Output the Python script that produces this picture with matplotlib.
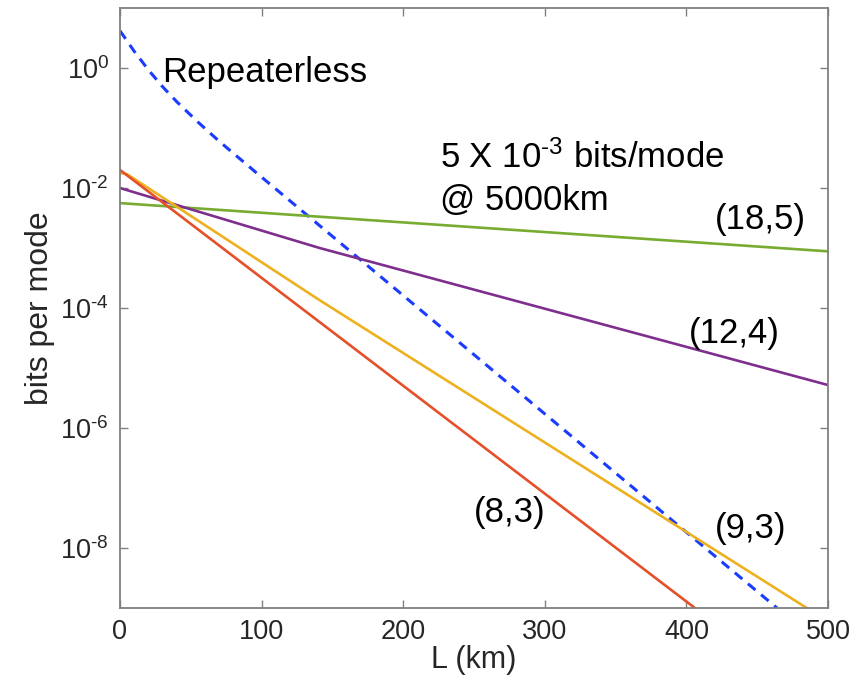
import matplotlib
matplotlib.use("Agg")
import matplotlib.pyplot as plt

plt.rcParams['font.family'] = ['Liberation Sans', 'DejaVu Sans']
plt.rcParams['mathtext.fontset'] = 'custom'
plt.rcParams['mathtext.rm'] = 'Liberation Sans'
plt.rcParams['mathtext.it'] = 'Liberation Sans'

# data (L in km, bits per mode)
L_rep = [0, 10, 20, 30, 40, 55, 70, 95, 464]
v_rep = [10**0.62, 10**0.28, 10**-0.03, 10**-0.31, 10**-0.56,
         10**-0.90, 10**-1.22, 10**-1.72, 1e-9]
L_83 = [0, 406]
v_83 = [2.0e-2, 1e-9]
L_93 = [0, 5, 141, 485]
v_93 = [1.78e-2, 1.70e-2, 1.35e-4, 1e-9]
L_124 = [0, 141, 500]
v_124 = [1.0e-2, 1.0e-3, 5.2e-6]
L_185 = [0, 500]
v_185 = [5.6e-3, 8.8e-4]

xticks = [0, 100, 200, 300, 400, 500]
yticks = [1e-8, 1e-6, 1e-4, 1e-2, 1e0]
ytick_labels = [r'$10^{\text{-}8}$', r'$10^{\text{-}6}$', r'$10^{\text{-}4}$',
                r'$10^{\text{-}2}$', r'$10^{0}$']

fig = plt.figure(figsize=(8.54, 6.78), dpi=100)
ax = fig.add_axes([0.1405, 0.1032, 0.8291, 0.8850])

ax.plot(L_rep, v_rep, color='#1a3cff', lw=2.2, dashes=(3.2, 2.4))
ax.plot(L_185, v_185, color='#77ac30', lw=1.9)
ax.plot(L_124, v_124, color='#7e2f8e', lw=1.9)
ax.plot(L_93, v_93, color='#edb120', lw=1.9)
ax.plot(L_83, v_83, color='#e5502a', lw=1.9)

ax.set_yscale('log')
ax.set_xlim(0, 500)
ax.set_ylim(1e-9, 1e1)
ax.set_xticks(xticks)
ax.set_yticks(yticks)
ax.set_yticklabels(ytick_labels)
ax.minorticks_off()

for s in ax.spines.values():
    s.set_color('#808080')
    s.set_linewidth(1.3)
ax.tick_params(direction='in', top=True, right=True, length=6, width=1.0,
               color='#808080', labelsize=19.5, labelcolor='#262626', pad=8)

ax.set_xlabel('L (km)', fontsize=22, color='#262626', labelpad=0)
ax.set_ylabel('bits per mode', fontsize=23, color='#262626', labelpad=4)

tk = dict(fontsize=25, color='black')
ax.text(30, 10**-0.07, 'Repeaterless', ha='left', va='center', **tk)
ax.text(226, 10**-1.5, r'5 X 10$^{\text{-3}}$ bits/mode', ha='left', va='center', **tk)
ax.text(226, 10**-2.2, '@ 5000km', ha='left', va='center', **tk)
ax.text(452, 10**-2.53, '(18,5)', ha='center', va='center', **tk)
ax.text(434, 10**-4.42, '(12,4)', ha='center', va='center', **tk)
ax.text(275, 10**-7.4, '(8,3)', ha='center', va='center', **tk)
ax.text(445, 10**-7.67, '(9,3)', ha='center', va='center', **tk)

fig.savefig('out.png', dpi=100)
